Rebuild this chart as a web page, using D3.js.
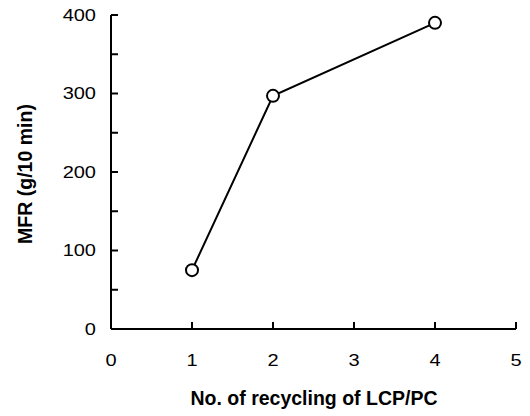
<!DOCTYPE html>
<html>
<head>
<meta charset="utf-8">
<script src="https://cdn.jsdelivr.net/npm/d3@7"></script>
<style>
  body { margin: 0; background: #fff; }
  svg text { font-family: "Liberation Sans", Arial, sans-serif; fill: #000; }
</style>
</head>
<body>
<svg id="chart" width="530" height="416"></svg>
<script>
// Melt flow rate after repeated recycling
const recycles = [1, 2, 4];
const mfr = [75, 297, 390];
const xTicks = [0, 1, 2, 3, 4, 5];
const yTicks = [0, 100, 200, 300, 400];
const yMinorTicks = [50, 150, 250, 350];

const svg = d3.select("#chart");
const x = d3.scaleLinear().domain([0, 5]).range([111, 516]);
const y = d3.scaleLinear().domain([0, 400]).range([329, 15]);

const ink = "#000";
const labelSize = 16;
const labelStretch = 1.25; // tick numerals are set slightly wide

// y axis: inward ticks on the right side of the line
const yAxis = svg.append("g").attr("transform", `translate(${x(0)},0)`);
yAxis.append("line").attr("y1", y(0)).attr("y2", y(400))
  .attr("stroke", ink).attr("stroke-width", 2);
yAxis.selectAll("line.tick").data(yTicks.concat(yMinorTicks)).join("line")
  .attr("class", "tick")
  .attr("x1", 0).attr("x2", 7)
  .attr("y1", d => y(d)).attr("y2", d => y(d))
  .attr("stroke", ink).attr("stroke-width", 2);
yAxis.selectAll("text").data(yTicks).join("text")
  .attr("transform", d => `translate(-15,${y(d)}) scale(${labelStretch},1)`)
  .attr("dy", "0.36em")
  .attr("text-anchor", "end").attr("font-size", labelSize)
  .text(d => d);

// x axis: inward ticks pointing up
const xAxis = svg.append("g").attr("transform", `translate(0,${y(0)})`);
xAxis.append("line").attr("x1", x(0)).attr("x2", x(5))
  .attr("stroke", ink).attr("stroke-width", 2);
xAxis.selectAll("line.tick").data(xTicks.slice(1)).join("line")
  .attr("class", "tick")
  .attr("x1", d => x(d)).attr("x2", d => x(d))
  .attr("y1", 0).attr("y2", -7)
  .attr("stroke", ink).attr("stroke-width", 2);
xAxis.selectAll("text").data(xTicks).join("text")
  .attr("transform", d => `translate(${x(d)},37) scale(${labelStretch},1)`)
  .attr("text-anchor", "middle").attr("font-size", labelSize)
  .text(d => d);

// axis titles
svg.append("text")
  .attr("x", 314).attr("y", 405)
  .attr("text-anchor", "middle").attr("font-size", 19.5).attr("font-weight", "bold")
  .text("No. of recycling of LCP/PC");
svg.append("text")
  .attr("transform", "translate(32,174) rotate(-90)")
  .attr("text-anchor", "middle").attr("font-size", 19.5).attr("font-weight", "bold")
  .text("MFR (g/10 min)");

// data line and open markers
const pts = recycles.map((r, i) => [r, mfr[i]]);
svg.append("path")
  .datum(pts)
  .attr("d", d3.line().x(d => x(d[0])).y(d => y(d[1])))
  .attr("fill", "none").attr("stroke", ink).attr("stroke-width", 2);
svg.selectAll("circle").data(pts).join("circle")
  .attr("cx", d => x(d[0])).attr("cy", d => y(d[1])).attr("r", 6)
  .attr("fill", "#fff").attr("stroke", ink).attr("stroke-width", 2);
</script>
</body>
</html>
